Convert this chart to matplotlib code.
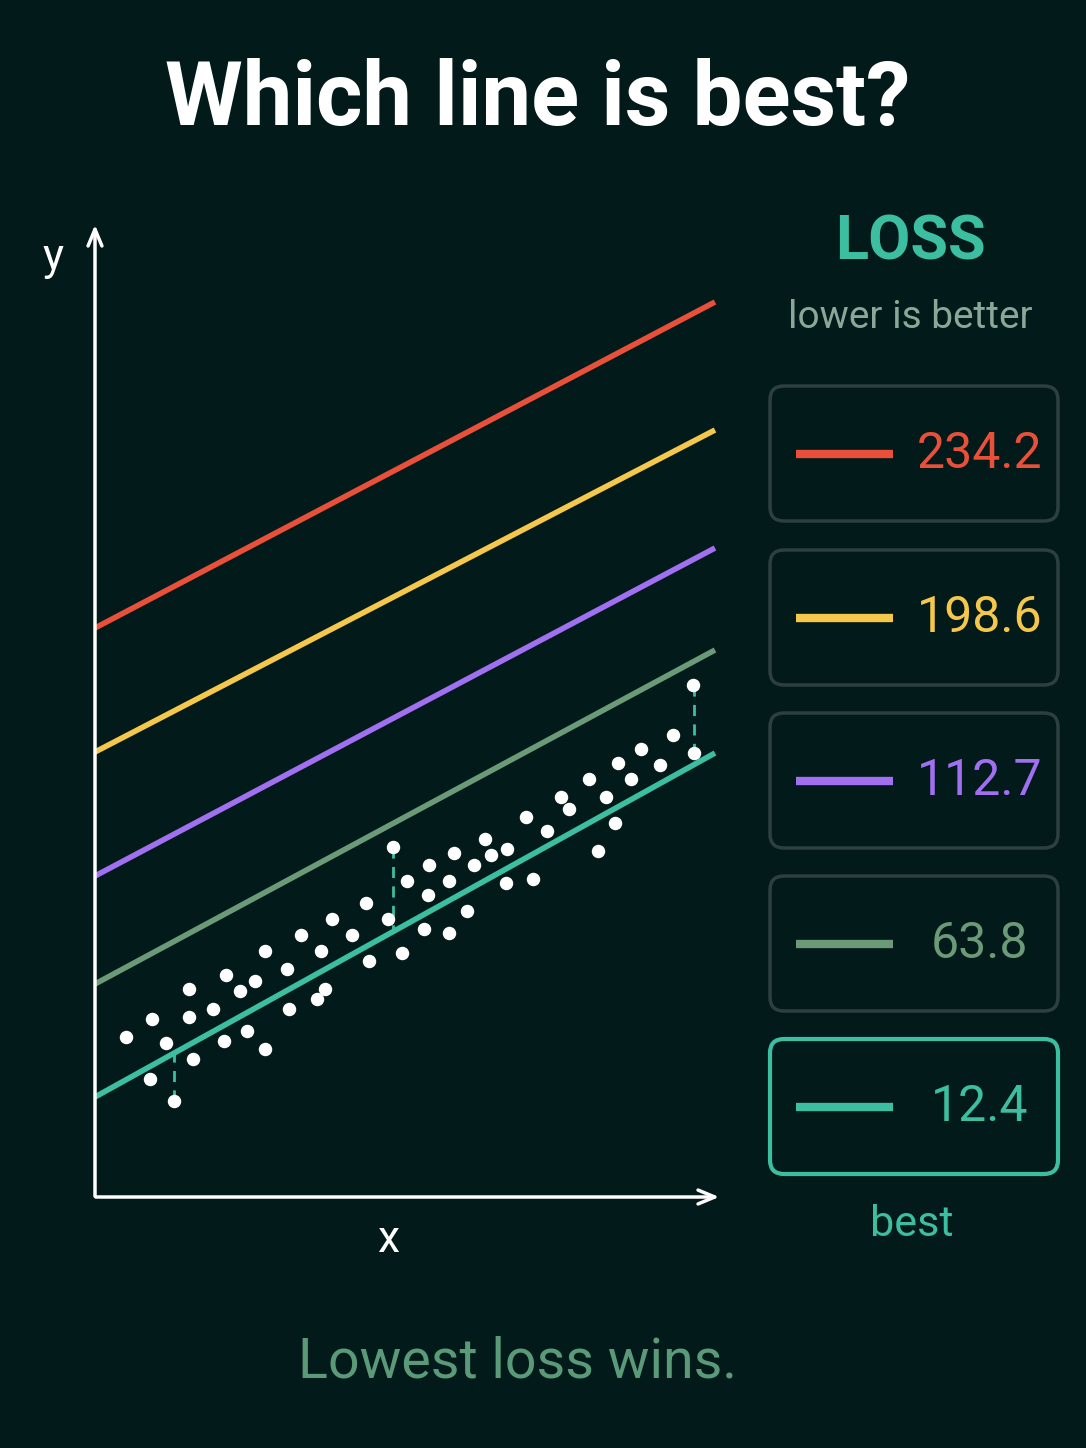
import matplotlib.pyplot as plt
from matplotlib.patches import FancyBboxPatch

plt.rcParams['font.family'] = ['Roboto', 'DejaVu Sans']

# scatter points (canvas pixel units)
point_x = [126, 150, 152, 166, 174, 189, 189, 193, 213, 224, 226, 240, 247, 255, 265, 265,
           287, 289, 301, 317, 321, 325, 332, 352, 366, 369, 388, 393, 402, 407, 424, 429,
           428, 449, 449, 454, 467, 474, 485, 491, 506, 507, 526, 533, 547, 561, 569, 589,
           598, 606, 615, 618, 631, 641, 660, 673, 693, 694]
point_y = [1037, 1079, 1019, 1043, 1101, 989, 1017, 1059, 1009, 1041, 975, 991, 1031, 981, 951, 1049,
           969, 1009, 935, 999, 951, 989, 919, 935, 903, 961, 919, 847, 953, 881, 929, 865,
           895, 933, 881, 853, 911, 865, 839, 855, 883, 849, 817, 879, 831, 797, 809, 779,
           851, 797, 823, 763, 779, 749, 765, 735, 685, 753]

# candidate lines: start / end heights at x = 95 and x = 715
line_start = [628, 752, 876, 984, 1097]
line_end = [302, 430, 548, 650, 753]
losses = ["234.2", "198.6", "112.7", "63.8", "12.4"]
colors = ["#e8503a", "#f5c84c", "#a070f0", "#6a9a78", "#3cbfa0"]

# residuals drawn to the best line
resid_x = [174, 393, 694]
resid_top = [1101, 847, 685]

bg = "#031a1a"
fig = plt.figure(figsize=(10.86, 14.48), dpi=100, facecolor=bg)
ax = fig.add_axes([0, 0, 1, 1])
ax.set_facecolor(bg)
ax.set_xlim(0, 1086)
ax.set_ylim(1448, 0)
ax.axis("off")

def best_y(x):
    return line_start[-1] + (line_end[-1] - line_start[-1]) * (x - 95) / 620

# axes arrows
ax.annotate("", xy=(95, 222), xytext=(95, 1199),
            arrowprops=dict(arrowstyle="->,head_length=1.2,head_width=0.5", color="white", lw=2.5))
ax.annotate("", xy=(722, 1197), xytext=(93, 1197),
            arrowprops=dict(arrowstyle="->,head_length=1.2,head_width=0.5", color="white", lw=2.5))
ax.text(53, 258, "y", color="white", fontsize=32, ha="center", va="center")
ax.text(388, 1240, "x", color="white", fontsize=32, ha="center", va="center")

for s, e, c in zip(line_start, line_end, colors):
    ax.plot([95, 715], [s, e], color=c, lw=4, solid_capstyle="butt")

for x, t in zip(resid_x, resid_top):
    ax.plot([x, x], [t, best_y(x)], color=colors[-1], lw=2, ls=(0, (4, 3)))

ax.scatter(point_x, point_y, s=75, color="white", zorder=5)

# title and legend panel
ax.text(538, 100, "Which line is best?", color="white", fontsize=64, fontweight="bold",
        ha="center", va="center")
ax.text(910, 243, "LOSS", color=colors[-1], fontsize=44, fontweight="bold", ha="center", va="center")
ax.text(910, 318, "lower is better", color="#8aa898", fontsize=28, ha="center", va="center")

box_tops = [386, 550, 713, 876, 1039]
for i, (top, c, v) in enumerate(zip(box_tops, colors, losses)):
    best = i == len(losses) - 1
    ax.add_patch(FancyBboxPatch((770, top), 288, 135, boxstyle="round,pad=0,rounding_size=14",
                                facecolor="none", edgecolor=c if best else "#2e3f3f", lw=3 if best else 2.5))
    cy = top + 68
    ax.plot([796, 893], [cy, cy], color=c, lw=6, solid_capstyle="butt")
    ax.text(980, cy, v, color=c, fontsize=36, ha="center", va="center")

ax.text(912, 1224, "best", color=colors[-1], fontsize=31, ha="center", va="center")
ax.text(517, 1362, "Lowest loss wins.", color="#5a9a78", fontsize=40, ha="center", va="center")

fig.savefig("out.png", dpi=100, facecolor=bg)
